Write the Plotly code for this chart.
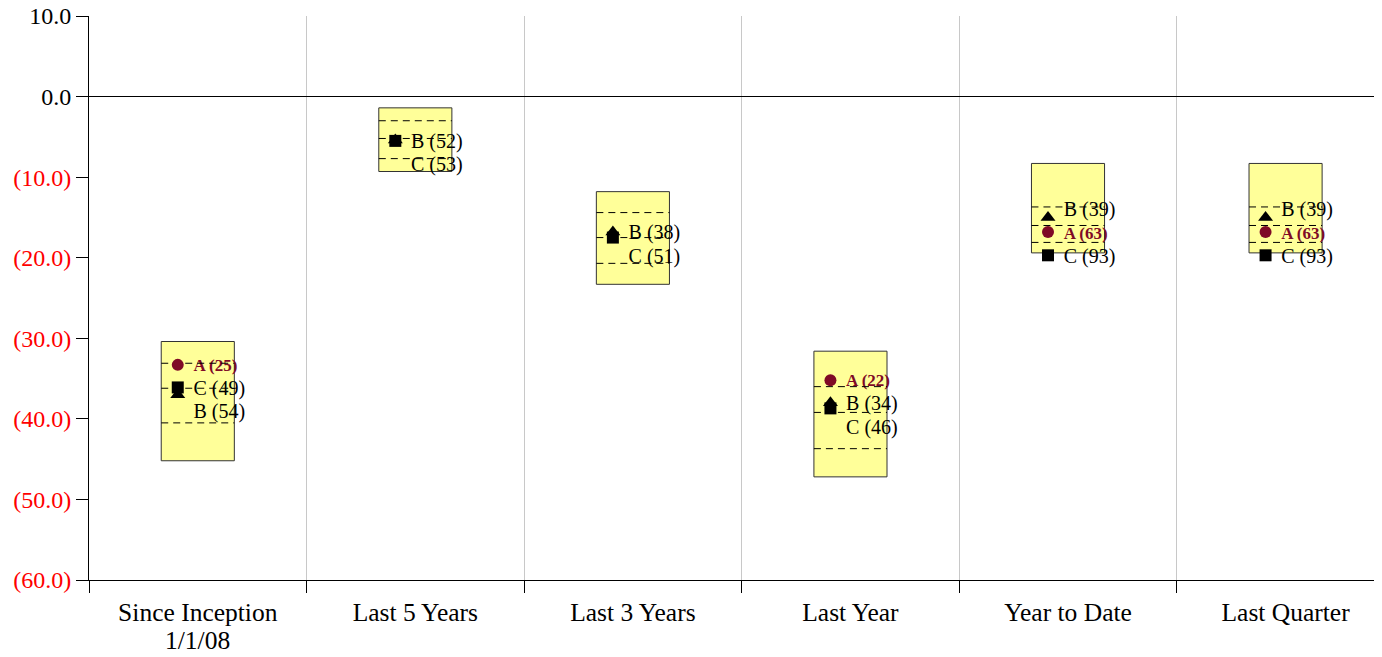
import plotly.graph_objects as go

periods = ["Since Inception", "Last 5 Years", "Last 3 Years",
           "Last Year", "Year to Date", "Last Quarter"]
period_sub = ["1/1/08", "", "", "", "", ""]

# universe percentiles (5th, 25th, median, 75th, 95th)
p05 = [-30.4, -1.4, -11.8, -31.6, -8.3, -8.3]
p25 = [-33.1, -3.0, -14.4, -36.0, -13.7, -13.7]
p50 = [-36.2, -5.2, -17.5, -39.2, -16.0, -16.0]
p75 = [-40.5, -7.7, -20.7, -43.7, -18.1, -18.1]
p95 = [-45.2, -9.3, -23.3, -47.2, -19.4, -19.4]

# portfolio returns and ranks
a_val = [-33.3, None, None, -35.2, -16.8, -16.8]
a_rank = [25, None, None, 22, 63, 63]
b_val = [-37.0, -5.4, -16.8, -38.0, -15.0, -15.0]
b_rank = [54, 52, 38, 34, 39, 39]
c_val = [-36.1, -5.5, -17.5, -38.7, -19.7, -19.7]
c_rank = [49, 53, 51, 46, 93, 93]

y_ticks = [10, 0, -10, -20, -30, -40, -50, -60]

# page body has an 8px margin, so the figure sits at (8, 8)
W, H = 1382, 657
M_L, M_R, M_T, M_B = 81, 0, 8, 85
Y_MIN, Y_MAX = -60, 10
px_per_unit = (H - M_T - M_B) / (Y_MAX - Y_MIN)

box_w = 0.336
mark_dx = -0.092
text_dx = -0.020
text_dy = -2.5 / px_per_unit
gap = 23.5 / px_per_unit

serif = "Liberation Serif, Times New Roman, serif"
dark_red = "#7f0a26"

x = list(range(len(periods)))

fig = go.Figure()

fig.add_trace(go.Bar(
    x=x, base=p95, y=[t - b for t, b in zip(p05, p95)], width=box_w,
    marker=dict(color="#ffff99", line=dict(color="#333333", width=1)),
    hoverinfo="skip", showlegend=False))


def spread(vals):
    # keep the middle label on its point, move the others away from it
    items = sorted([(v, k) for k, v in vals.items()], reverse=True)
    n = len(items)
    anchor = (n - 1) // 2
    pos = [v for v, _ in items]
    for i in range(anchor - 1, -1, -1):
        pos[i] = max(pos[i], pos[i + 1] + gap)
    for i in range(anchor + 1, n):
        pos[i] = min(pos[i], pos[i - 1] - gap)
    return {k: p for (_, k), p in zip(items, pos)}


lab = {"A": ([], [], []), "B": ([], [], []), "C": ([], [], [])}
for i in x:
    vals = {}
    if a_val[i] is not None:
        vals["A"] = a_val[i]
    vals["B"] = b_val[i]
    vals["C"] = c_val[i]
    ranks = {"A": a_rank[i], "B": b_rank[i], "C": c_rank[i]}
    ys = spread(vals)
    for k, yy in ys.items():
        lab[k][0].append(i + text_dx)
        lab[k][1].append(yy + text_dy)
        txt = f"{k} ({ranks[k]})"
        lab[k][2].append(f"<b>{txt}</b>" if k == "A" else txt)

for k in ["A", "B", "C"]:
    fig.add_trace(go.Scatter(
        x=lab[k][0], y=lab[k][1], text=lab[k][2], mode="text",
        textposition="middle right",
        textfont=dict(family=serif, size=20 if k != "A" else 17,
                      color=dark_red if k == "A" else "black"),
        hoverinfo="skip", showlegend=False))

# percentile dashed lines
for q in [p25, p50, p75]:
    xs, ys = [], []
    for i in x:
        xs += [i - box_w / 2, i + box_w / 2, None]
        ys += [q[i], q[i], None]
    fig.add_trace(go.Scatter(x=xs, y=ys, mode="lines",
                             line=dict(color="black", width=1, dash="7px,5px"),
                             hoverinfo="skip", showlegend=False))

fig.add_trace(go.Scatter(
    x=[i + mark_dx for i in x], y=a_val, mode="markers",
    marker=dict(symbol="circle", size=12, color=dark_red),
    showlegend=False))
fig.add_trace(go.Scatter(
    x=[i + mark_dx for i in x], y=b_val, mode="markers",
    marker=dict(symbol="triangle-up", size=13, color="black"),
    showlegend=False))
fig.add_trace(go.Scatter(
    x=[i + mark_dx for i in x], y=c_val, mode="markers",
    marker=dict(symbol="square", size=12, color="black"),
    showlegend=False))

# second line of the category labels, set tighter than a <br> would give
for i, s in zip(x, period_sub):
    if s:
        fig.add_annotation(x=i, y=0, xref="x", yref="paper", text=s,
                           showarrow=False, xanchor="center", yanchor="middle",
                           yshift=-60, font=dict(family=serif, size=25.5, color="black"))


def fmt(v):
    if v < 0:
        return f"<span style='color:red'>({abs(v):.1f})</span>"
    return f"{v:.1f}"


fig.update_layout(
    width=W, height=H,
    margin=dict(l=M_L, r=M_R, t=M_T, b=M_B, autoexpand=False),
    paper_bgcolor="white", plot_bgcolor="white",
    font=dict(family=serif, size=24, color="black"),
    showlegend=False,
    xaxis=dict(
        range=[-0.5, 5.48], tickmode="array", tickvals=x, ticktext=periods,
        ticks="", showgrid=False, zeroline=False, automargin=False,
        showline=True, linecolor="black", linewidth=1,
        tickfont=dict(size=25.5), ticklabelstandoff=9,
        minor=dict(tickmode="array", tickvals=[i - 0.5 for i in range(len(periods) + 1)],
                   ticks="outside", ticklen=12, tickcolor="black",
                   showgrid=True, gridcolor="#c8c8c8", gridwidth=1),
    ),
    yaxis=dict(
        range=[Y_MIN, Y_MAX], tickmode="array", tickvals=y_ticks,
        ticktext=[fmt(v) for v in y_ticks], automargin=False,
        ticklabeloverflow="allow",
        ticks="outside", ticklen=12, tickcolor="black",
        showgrid=False, zeroline=True, zerolinecolor="black", zerolinewidth=1,
        showline=True, linecolor="black", linewidth=1,
        tickfont=dict(size=24),
    ),
)

fig.write_html("out.html")
